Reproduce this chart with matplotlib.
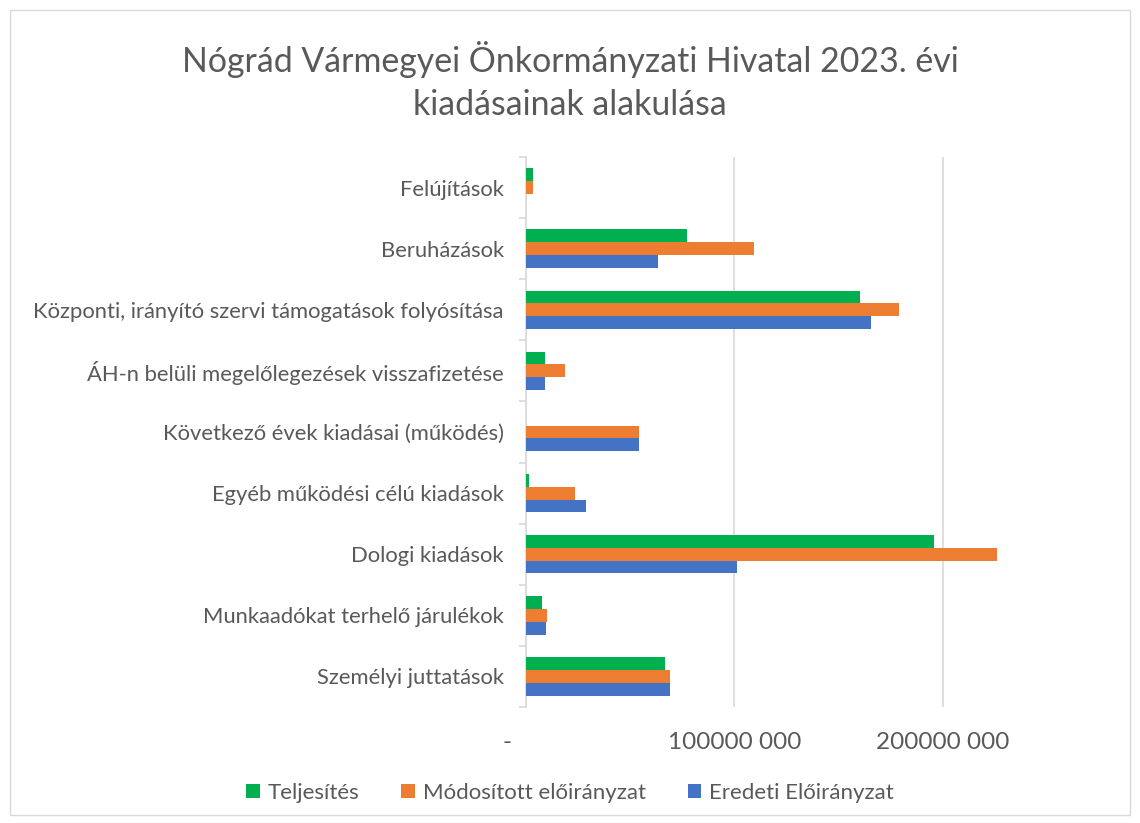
import numpy as np
import matplotlib
matplotlib.use("Agg")
import matplotlib.pyplot as plt
from matplotlib.patches import Rectangle
from matplotlib.ticker import FuncFormatter

categories = [
    "Személyi juttatások",
    "Munkaadókat terhelő járulékok",
    "Dologi kiadások",
    "Egyéb működési célú kiadások",
    "Következő évek kiadásai (működés)",
    "ÁH-n belüli megelőlegezések visszafizetése",
    "Központi, irányító szervi támogatások folyósítása",
    "Beruházások",
    "Felújítások",
]
teljesites = [66.7e6, 7.7e6, 195.9e6, 1.4e6, 0, 9.3e6, 160.4e6, 77.1e6, 3.2e6]
modositott = [69.1e6, 10.1e6, 226.0e6, 23.7e6, 54.2e6, 18.7e6, 179.1e6, 109.2e6, 3.2e6]
eredeti = [69.1e6, 9.5e6, 101.1e6, 28.7e6, 54.2e6, 9.3e6, 165.6e6, 63.5e6, 0]

series = [
    ("Teljesítés", teljesites, "#00B050"),
    ("Módosított előirányzat", modositott, "#ED7D31"),
    ("Eredeti Előirányzat", eredeti, "#4472C4"),
]

plt.rcParams["font.family"] = ["Lato", "DejaVu Sans"]
TXT = "#595959"

fig = plt.figure(figsize=(11.4, 8.23), dpi=100)
ax = fig.add_axes([526 / 1140, 1 - 707 / 823, (1047 - 526) / 1140, (707 - 157) / 823])

y = np.arange(len(categories))
h = 0.21
offsets = [h, 0, -h]
for (name, vals, col), off in zip(series, offsets):
    ax.barh(y + off, vals, height=h, color=col, label=name, zorder=3)

ax.set_ylim(-0.5, len(categories) - 0.5)
ax.set_xlim(0, 250e6)
ax.set_xticks([0, 100e6, 200e6])


def fmt(v, _):
    if v == 0:
        return "-      "
    s = f"{int(v):d}"
    return s[:-3] + " " + s[-3:]


ax.xaxis.set_major_formatter(FuncFormatter(fmt))
ax.set_yticks(y)
ax.set_yticklabels(categories)
ax.set_yticks(np.arange(-0.5, len(categories), 1), minor=True)
ax.tick_params(axis="y", which="major", length=0, pad=16, labelsize=15.8, labelcolor=TXT)
ax.tick_params(axis="y", which="minor", length=5, color="#D9D9D9", width=1.2)
ax.tick_params(axis="x", length=0, pad=18, labelsize=17.5, labelcolor=TXT)
ax.grid(axis="x", color="#D9D9D9", lw=1.2, zorder=0)
for s in ["top", "right", "bottom"]:
    ax.spines[s].set_visible(False)
ax.spines["left"].set_color("#D9D9D9")
ax.spines["left"].set_linewidth(1.2)

fig.text(0.5, 1 - 81 / 823, "Nógrád Vármegyei Önkormányzati Hivatal 2023. évi\nkiadásainak alakulása",
         ha="center", va="center", fontsize=24.4, color=TXT, linespacing=1.45)

ax.legend(loc="center", bbox_to_anchor=(0.5, 1 - 793 / 823), bbox_transform=fig.transFigure,
          ncol=3, frameon=False, fontsize=16, labelcolor=TXT, handlelength=0.6,
          handleheight=0.6, columnspacing=1.9, handletextpad=0.35)

fig.patches.append(Rectangle((10 / 1140, 8 / 823), 1120 / 1140, 805 / 823, transform=fig.transFigure,
                             fill=False, edgecolor="#D9D9D9", lw=1))

fig.savefig("out.png", dpi=100)
